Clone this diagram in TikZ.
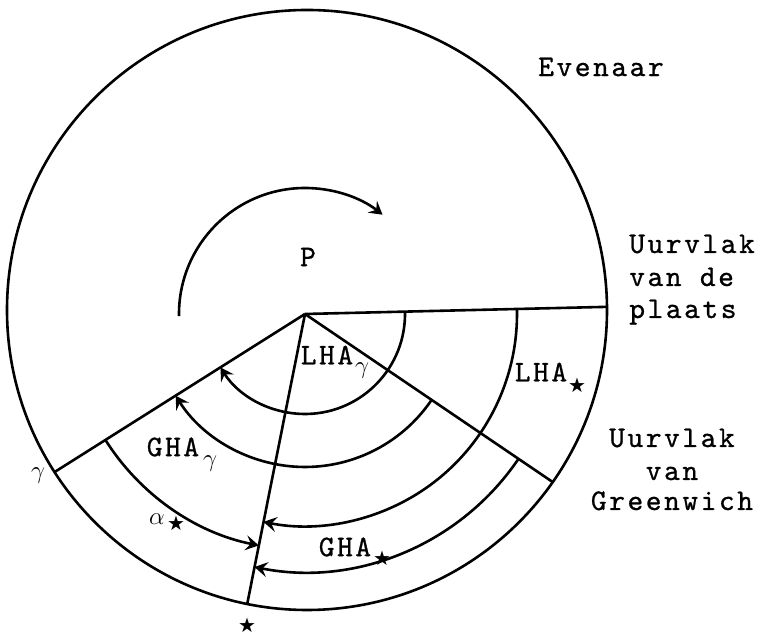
\documentclass[tikz,border=0pt]{standalone}
\usepackage{fontspec}
\newfontfamily\tw{lmmono10-regular.otf}[LetterSpace=8.5,FakeBold=0.8]
\newfontfamily\symfont{DejaVu Sans}
\usetikzlibrary{arrows.meta}
\begin{document}
\begin{tikzpicture}[x=1pt,y=1pt,line width=2.6pt,
  lbl/.style={font=\fontsize{30}{33}\selectfont\tw,inner sep=0pt},
  sub/.style={font=\fontsize{30}{32}\selectfont,inner sep=0pt},
  starl/.style={font=\fontsize{20}{21}\selectfont\symfont,inner sep=0pt},
  arcarrow/.style={-{Stealth[length=13pt,width=15pt,inset=5pt]}}]
\useasboundingbox (0,0) rectangle (763,636);
\coordinate (C) at (307,326);
\coordinate (O) at (305,322);
% equator circle
\draw (C) circle[radius=300pt];
% hour planes
\coordinate (Ep) at ([shift={(0.6:300pt)}]C);
\coordinate (Eg) at ([shift={(-35:300pt)}]C);
\coordinate (Es) at ([shift={(-101.5:300pt)}]C);
\coordinate (Ey) at ([shift={(-147.3:300pt)}]C);
\draw (O) -- (Ep);
\draw (O) -- (Eg);
\draw (O) -- (Es);
\draw (O) -- (Ey);
% rotation arrow
\draw[arcarrow] ([shift={(181:126pt)}]O) arc[start angle=181,end angle=52,radius=126pt];
% hour angle arcs
\draw[arcarrow] ([shift={(1.35:100pt)}]O) arc[start angle=1.35,end angle=-147.7,radius=100pt];
\draw[arcarrow] ([shift={(-34.2:153pt)}]O) arc[start angle=-34.2,end angle=-147.7,radius=153pt];
\draw[arcarrow] ([shift={(1.35:212pt)}]O) arc[start angle=1.35,end angle=-101.3,radius=212pt];
\draw[arcarrow] ([shift={(-147.7:236pt)}]O) arc[start angle=-147.7,end angle=-101.3,radius=236pt];
\draw[arcarrow] ([shift={(-34.2:258pt)}]O) arc[start angle=-34.2,end angle=-101.3,radius=258pt];
% labels
\node[lbl] (P) at (308,379) {P};
\node[lbl] (lhag) at (327,281) {LHA};
\node[sub] (lhagsub) at (362,265) {$\gamma$};
\node[lbl] (lhas) at (541,264) {LHA};
\node[starl] (lhassub) at (577,251) {★};
\node[lbl] (ghag) at (173,189) {GHA};
\node[sub] (ghagsub) at (210,172) {$\gamma$};
\node[sub] (alpha) at (157,117) {$\alpha$};
\node[starl] (alphasub) at (176,113) {★};
\node[lbl] (ghas) at (345,89) {GHA};
\node[starl] (ghassub) at (382,78) {★};
\node[sub] (gam) at (38,160) {$\gamma$};
\node[starl] (starb) at (247,11) {★};
\node[lbl] (even) at (601,569) {Evenaar};
\node[lbl,anchor=base west] (up1) at (628,383) {Uurvlak};
\node[lbl,anchor=base west] (up2) at (628,350) {van de};
\node[lbl,anchor=base west] (up3) at (628,318) {plaats};
\node[lbl,anchor=base] (ug1) at (672,189) {Uurvlak};
\node[lbl,anchor=base] (ug2) at (672,156) {van};
\node[lbl,anchor=base] (ug3) at (672,126) {Greenwich};
\end{tikzpicture}
\end{document}
